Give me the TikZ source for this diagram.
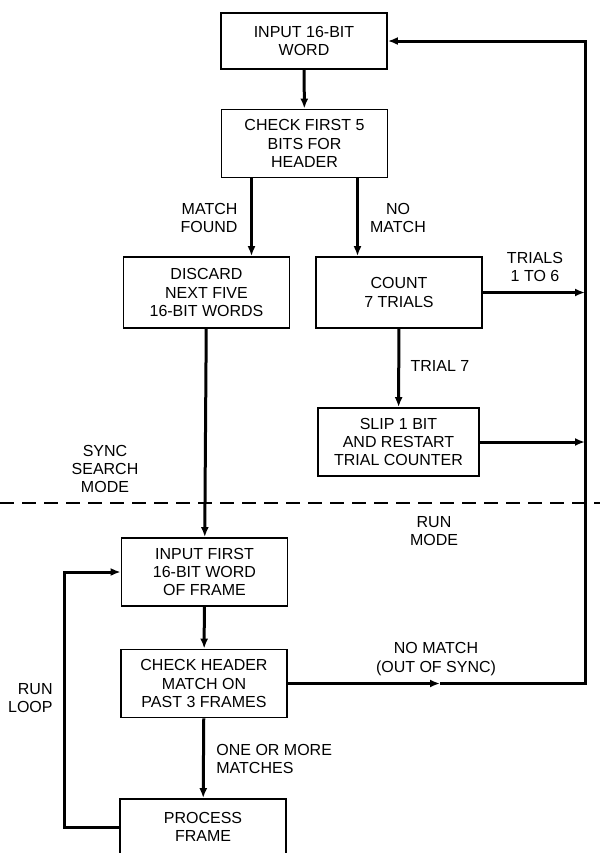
\documentclass[tikz,border=0pt]{standalone}
\usepackage{fontspec}
\setmainfont{Liberation Sans}
\usepackage{tikz}
\usetikzlibrary{positioning, arrows.meta}

\begin{document}
\begin{tikzpicture}[x=0.5pt, y=-0.5pt, >={Latex[length=5pt,width=4pt]},
        blk/.style={draw, line width=0.9pt, minimum width=83pt, minimum height=34pt,
          inner sep=1pt, align=center, font=\fontsize{8}{9.2}\selectfont},
        lbl/.style={align=center, inner sep=0pt, font=\fontsize{8}{9.2}\selectfont},
        conn/.style={line width=1.5pt}]
        \path[use as bounding box, clip] (0,0) rectangle (600,853);
        \coordinate (rbus)  at (585,0);
        \coordinate (loopx) at (64,0);
        \coordinate (oos)   at (440,0);
        \node[blk, minimum height=28pt]   (in16)    at (304,41)    {INPUT 16-BIT\\WORD};
        \node[blk]                        (chk5)    at (304.5,143.5) {CHECK FIRST 5\\BITS FOR\\HEADER};
        \node[blk, minimum height=35.5pt] (discard) at (206.5,292.5) {DISCARD\\NEXT FIVE\\16-BIT WORDS};
        \node[blk, minimum height=35.5pt] (count)   at (399,292.5)  {COUNT\\7 TRIALS};
        \node[blk, minimum width=80.5pt]  (slip)    at (398.5,442)  {SLIP 1 BIT\\AND RESTART\\TRIAL COUNTER};
        \node[blk]                        (inframe) at (204.5,572)  {INPUT FIRST\\16-BIT WORD\\OF FRAME};
        \node[blk]                        (chkhdr)  at (204,683.5)  {CHECK HEADER\\MATCH ON\\PAST 3 FRAMES};
        \node[blk, minimum height=28pt]   (process) at (203,827)    {PROCESS\\FRAME};
        \draw[conn,->] (in16) -- (chk5);
        \draw[conn,->] ([xshift=-26.5pt]chk5.south) coordinate (mf) -- (mf |- discard.north);
        \draw[conn,->] ([xshift=26.5pt]chk5.south) coordinate (nm) -- (nm |- count.north);
        \draw[conn,->] (discard) -- (inframe);
        \draw[conn,->] (count) -- (slip);
        \draw[conn,->] (count.east) -- (count.east -| rbus);
        \draw[conn,->] (slip.east) -- (slip.east -| rbus);
        \draw[conn,->] (inframe) -- (chkhdr);
        \draw[conn,->] (chkhdr) -- (process);
        \draw[conn,->] (chkhdr.east) -- (chkhdr.east -| oos);
        \draw[conn,->] (chkhdr.east -| oos) -- (chkhdr.east -| rbus) |- (in16.east);
        \draw[conn,->] (process.west) -- (process.west -| loopx) |- (inframe.west);
        \draw[line width=0.8pt, dash pattern=on 7pt off 4pt] (0,503) -- (600,503);
        \node[lbl, align=right] at (209,218) {MATCH\\FOUND};
        \node[lbl] at (398,218) {NO\\MATCH};
        \node[lbl] at (535,267) {TRIALS\\1 TO 6};
        \node[lbl] at (440,366) {TRIAL 7};
        \node[lbl] at (105,469) {SYNC\\SEARCH\\MODE};
        \node[lbl] at (434,531) {RUN\\MODE};
        \node[lbl] at (436,659) {NO MATCH\\(OUT OF SYNC)};
        \node[lbl, align=right, anchor=east] at (53,698) {RUN\\LOOP};
        \node[lbl, align=left, anchor=west] at (216,759) {ONE OR MORE\\MATCHES};
      \end{tikzpicture}
\end{document}
